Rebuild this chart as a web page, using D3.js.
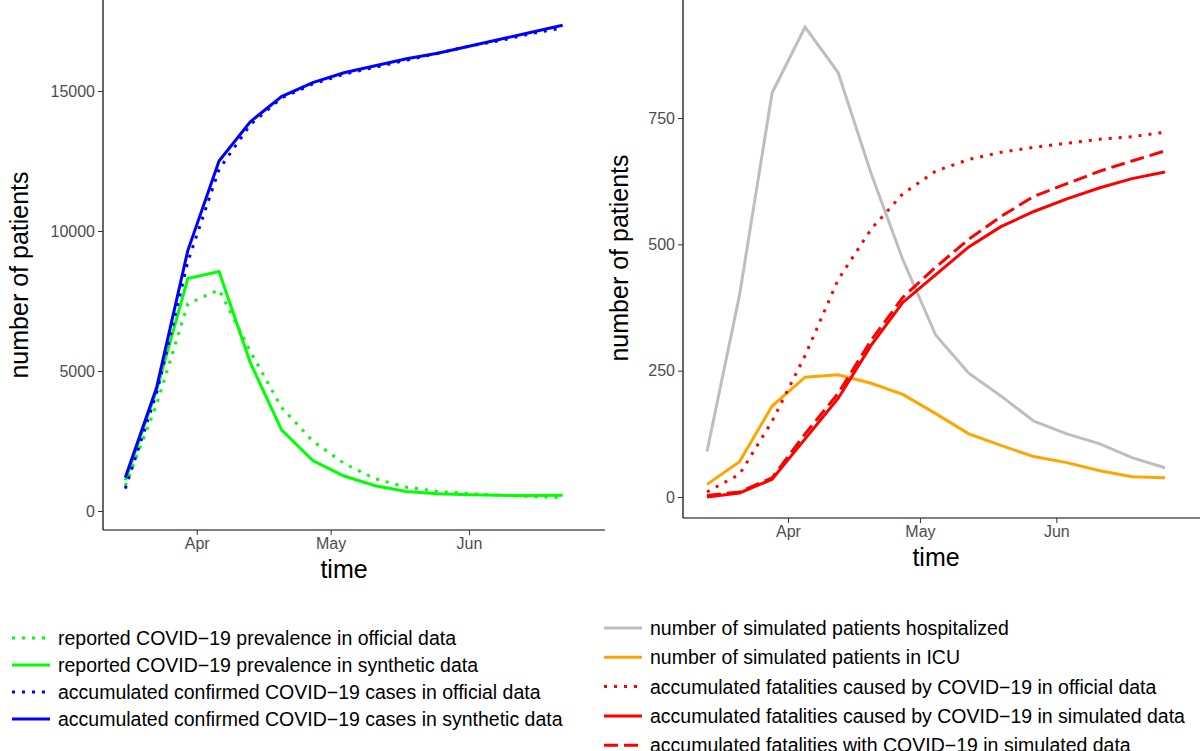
<!DOCTYPE html>
<html><head><meta charset="utf-8">
<script src="https://cdn.jsdelivr.net/npm/d3@7"></script>
<style>body{margin:0;background:#fff;font-family:"Liberation Sans",Arial,sans-serif}</style>
</head><body><svg id="c" width="1200" height="751"></svg>
<script>
// left panel: weekly dates
const leftDates = ["2020-03-16","2020-03-23","2020-03-30","2020-04-06","2020-04-13","2020-04-20","2020-04-27","2020-05-04","2020-05-11","2020-05-18","2020-05-25","2020-06-01","2020-06-08","2020-06-15","2020-06-22"];
const prevOfficial = [900,3800,7400,7900,5700,3700,2500,1700,1150,850,700,620,560,520,480];
const prevSynthetic = [1100,4300,8300,8550,5300,2900,1800,1250,900,700,620,580,560,550,560];
const casesOfficial = [800,4200,8900,12200,13800,14750,15250,15600,15850,16100,16350,16600,16800,17050,17250];
const casesSynthetic = [1200,4400,9300,12500,13900,14800,15300,15650,15900,16150,16350,16600,16850,17100,17350];
const leftTicks = [0,5000,10000,15000];

// right panel: day offsets from Apr 1
const rightDays = [-18.4,-11,-3.6,3.9,11.4,18.9,26.1,33.6,41.1,48.4,55.9,63.4,70.9,78.2,85.7];
const hospitalized = [90,400,800,930,840,640,470,320,245,200,150,125,105,78,58];
const icu = [25,70,180,237,242,225,203,165,125,102,80,68,52,40,38];
const fatalOfficial = [10,45,150,280,430,530,600,645,668,682,692,700,708,713,722];
const fatalSimCaused = [0,8,35,115,195,300,385,440,495,535,565,590,612,630,643];
const fatalSimWith = [3,10,38,125,205,310,395,455,510,555,595,620,645,665,685];
const rightTicks = [0,250,500,750];

const monthTicks = ["2020-04-01","2020-05-01","2020-06-01"];
const parse = d3.timeParse("%Y-%m-%d");
const svg = d3.select("#c");

function panel(o) {
  const g = svg.append("g");
  const x = d3.scaleTime().domain(o.xdom).range([o.x0, o.x1]);
  const y = d3.scaleLinear().domain(o.ydom).range([o.yb, o.yt]);
  const ax = o.x0 - o.hgap, ay = o.yb + o.vgap;
  const xa = g.append("g").attr("transform", `translate(0,${ay})`)
    .call(d3.axisBottom(x).tickValues(monthTicks.map(parse)).tickFormat(d3.timeFormat("%b")).tickSizeOuter(0).tickSize(5));
  const ya = g.append("g").attr("transform", `translate(${ax},0)`)
    .call(d3.axisLeft(y).tickValues(o.yticks).tickFormat(d3.format("d")).tickSizeOuter(0).tickSize(5));
  [xa, ya].forEach(a => {
    a.attr("font-size", 16).attr("font-family", "Liberation Sans, Arial");
    a.select(".domain").attr("stroke", "#000").attr("stroke-width", 1.2);
    a.selectAll(".tick line").attr("stroke", "#333");
    a.selectAll(".tick text").attr("fill", "#4d4d4d");
  });
  xa.select(".domain").attr("d", `M${ax},0H${o.x1 + 20}`);
  ya.select(".domain").attr("d", `M0,${o.vgap}V${-o.yb - 20}`).attr("transform", `translate(0,${o.yb})`);
  g.append("text").attr("x", (o.x0 + o.x1) / 2).attr("y", ay + 48).attr("text-anchor", "middle")
    .style("font-size", "25px").text("time");
  g.append("text").attr("transform", `translate(${ax - o.ytx},${o.ytc}) rotate(-90)`)
    .attr("text-anchor", "middle").style("font-size", "25px").text("number of patients");
  o.series.forEach(s => {
    g.append("path").datum(s.v)
      .attr("fill", "none").attr("stroke", s.c).attr("stroke-width", 3)
      .attr("stroke-dasharray", s.dash).attr("stroke-linecap", "butt")
      .attr("d", d3.line().x((d, i) => x(o.dates[i])).y(d => y(d)));
  });
}

const ld = leftDates.map(parse);
panel({
  dates: ld, xdom: [d3.timeDay.offset(ld[0], -5), d3.timeDay.offset(ld[14], 5)],
  x0: 103, x1: 585, yb: 511, yt: 91, ydom: [0, 15000], hgap: 0, vgap: 19, yticks: leftTicks,
  ytx: 75, ytc: 275,
  series: [
    {v: prevOfficial, c: "#00ff00", dash: "3,7"},
    {v: prevSynthetic, c: "#00ff00", dash: null},
    {v: casesOfficial, c: "#0000ff", dash: "3,7"},
    {v: casesSynthetic, c: "#0000ff", dash: null}
  ]
});
const apr1 = parse("2020-04-01");
const rd = rightDays.map(d => new Date(apr1.getTime() + d * 864e5));
panel({
  dates: rd, xdom: [new Date(rd[0].getTime() - 5 * 864e5), new Date(rd[14].getTime() + 5 * 864e5)],
  x0: 685, x1: 1187, yb: 497, yt: 118, ydom: [0, 750], hgap: 2, vgap: 21, yticks: rightTicks,
  ytx: 55, ytc: 258,
  series: [
    {v: hospitalized, c: "#bebebe", dash: null},
    {v: icu, c: "#ffa500", dash: null},
    {v: fatalOfficial, c: "#ff0000", dash: "3,7"},
    {v: fatalSimCaused, c: "#ff0000", dash: null},
    {v: fatalSimWith, c: "#ff0000", dash: "14,6"}
  ]
});

function legend(x, y0, step, items) {
  const g = svg.append("g");
  items.forEach((it, i) => {
    const y = y0 + i * step;
    g.append("line").attr("x1", x).attr("x2", x + 38).attr("y1", y).attr("y2", y)
      .attr("stroke", it.c).attr("stroke-width", 3).attr("stroke-dasharray", it.dash);
    g.append("text").attr("x", x + 46).attr("y", y + 7).style("font-size", "19.5px").text(it.t);
  });
}
legend(12, 638, 27, [
  {c: "#00ff00", dash: "3,7", t: "reported COVID\u221219 prevalence in official data"},
  {c: "#00ff00", dash: null, t: "reported COVID\u221219 prevalence in synthetic data"},
  {c: "#0000ff", dash: "3,7", t: "accumulated confirmed COVID\u221219 cases in official data"},
  {c: "#0000ff", dash: null, t: "accumulated confirmed COVID\u221219 cases in synthetic data"}
]);
legend(604, 628, 29.3, [
  {c: "#bebebe", dash: null, t: "number of simulated patients hospitalized"},
  {c: "#ffa500", dash: null, t: "number of simulated patients in ICU"},
  {c: "#ff0000", dash: "3,7", t: "accumulated fatalities caused by COVID\u221219 in official data"},
  {c: "#ff0000", dash: null, t: "accumulated fatalities caused by COVID\u221219 in simulated data"},
  {c: "#ff0000", dash: "14,6", t: "accumulated fatalities with COVID\u221219 in simulated data"}
]);
</script></body></html>
